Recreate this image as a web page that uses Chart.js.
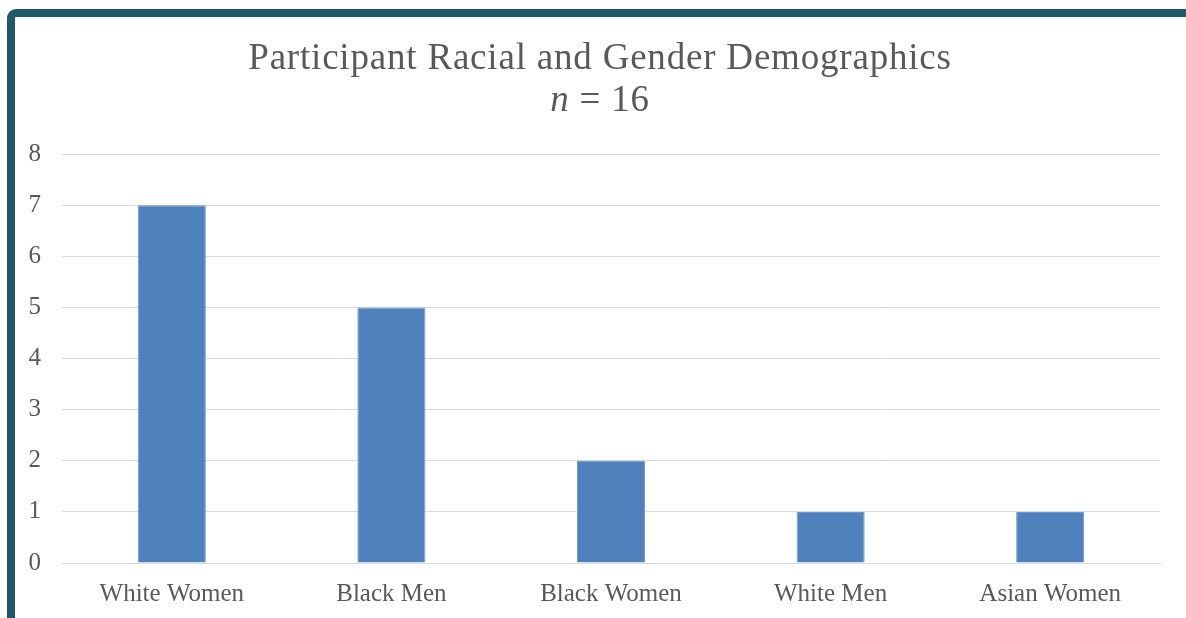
<!DOCTYPE html>
<html>
<head>
<meta charset="utf-8">
<script src="https://cdn.jsdelivr.net/npm/chart.js@4/dist/chart.umd.min.js"></script>
<style>
  html, body { margin: 0; padding: 0; background: #fff; }
  #wrap { position: relative; width: 1186px; height: 618px; overflow: hidden; background: #fff; }
  #frame {
    position: absolute; left: 7px; top: 9px; width: 1200px; height: 640px;
    border: 8px solid #215968; border-radius: 9px; box-sizing: border-box;
  }
  #title {
    position: absolute; left: 0; width: 1200px; top: 36px; text-align: center;
    font-family: "Liberation Serif", serif; color: #595959; font-size: 37px; line-height: 42px;
    letter-spacing: 0.8px;
  }
  #chart { position: absolute; left: 0; top: 0; }
</style>
</head>
<body>
<div id="wrap">
  <div id="frame"></div>
  <canvas id="chart" width="1186" height="618"></canvas>
  <div id="title">Participant Racial and Gender Demographics<br><i>n</i> = 16</div>
</div>
<script>
// Participant counts by racial / gender group
const categories = ['White Women', 'Black Men', 'Black Women', 'White Men', 'Asian Women'];
const counts = [7, 5, 2, 1, 1];
const yTicks = [0, 1, 2, 3, 4, 5, 6, 7, 8];

const textColor = '#595959';
const tickFont = { family: 'Liberation Serif', size: 25 };

new Chart(document.getElementById('chart'), {
  type: 'bar',
  data: {
    labels: categories,
    datasets: [{
      data: counts,
      backgroundColor: '#4F81BD',
      borderColor: '#6F97C8',
      borderWidth: 1,
      categoryPercentage: 1,
      barPercentage: 0.31
    }]
  },
  options: {
    responsive: false,
    animation: false,
    devicePixelRatio: 1,
    layout: { padding: { top: 154, right: 26, bottom: 0, left: 0 } },
    plugins: { legend: { display: false }, title: { display: false }, tooltip: { enabled: false } },
    scales: {
      x: {
        grid: { display: false, drawTicks: false },
        border: { display: true, color: '#D9D9D9', width: 1 },
        ticks: { color: textColor, font: tickFont, padding: 16, maxRotation: 0 },
        afterFit(scale) { scale.height = 55; }
      },
      y: {
        min: 0, max: 8,
        afterBuildTicks(scale) { scale.ticks = yTicks.map(v => ({ value: v })); },
        grid: { color: '#D9D9D9', lineWidth: 1, drawTicks: false },
        border: { display: false },
        ticks: { color: textColor, font: tickFont, padding: 21 },
        afterFit(scale) { scale.width = 62; }
      }
    }
  }
});
</script>
</body>
</html>
